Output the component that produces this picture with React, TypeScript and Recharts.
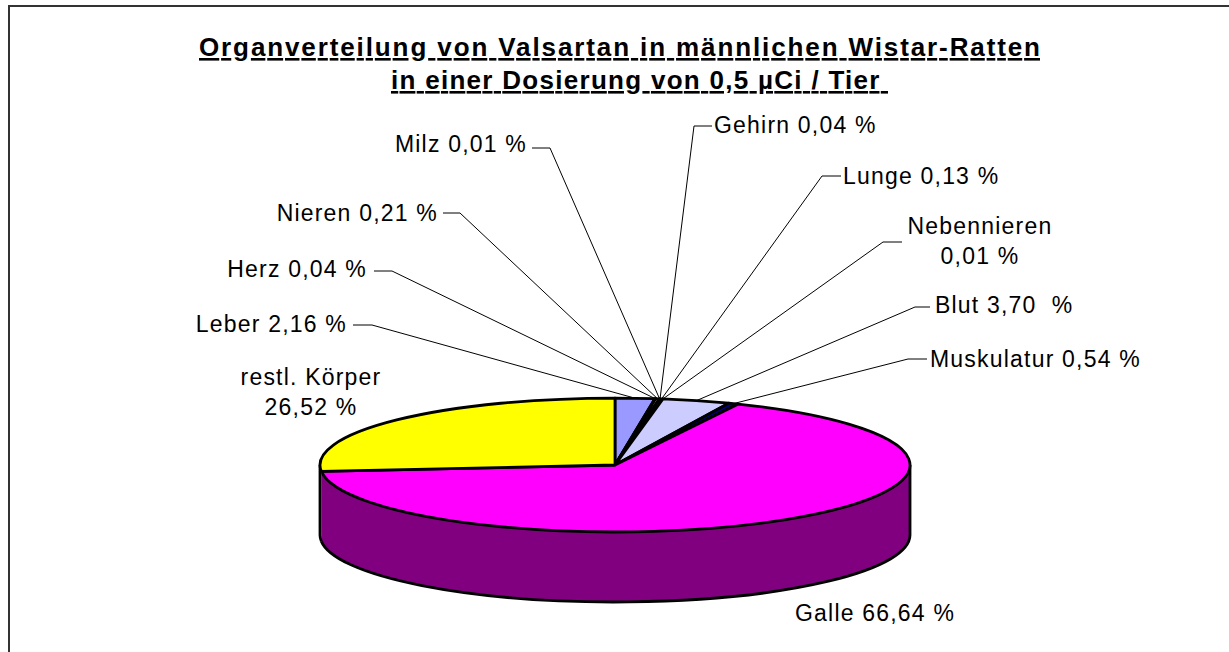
import React from 'react';
import { PieChart, Pie, Cell } from 'recharts';

// ---- data ----
const organs = ['Leber', 'Herz', 'Nieren', 'Milz', 'Gehirn', 'Lunge', 'Nebennieren', 'Blut', 'Muskulatur', 'Galle', 'restl. Körper'];
const shares = [2.16, 0.04, 0.21, 0.01, 0.04, 0.13, 0.01, 3.7, 0.54, 66.64, 26.52];
const labelTexts = [
  ['Leber 2,16 %'],
  ['Herz 0,04 %'],
  ['Nieren 0,21 %'],
  ['Milz 0,01 %'],
  ['Gehirn 0,04 %'],
  ['Lunge 0,13 %'],
  ['Nebennieren', '0,01 %'],
  ['Blut 3,70  %'],
  ['Muskulatur 0,54 %'],
  ['Galle 66,64 %'],
  ['restl. Körper', '26,52 %'],
];
const titleLines = ['Organverteilung von Valsartan in männlichen Wistar-Ratten', 'in einer Dosierung von 0,5 µCi / Tier '];

// ---- styles / layout ----
const topColors = ['#9999FF', '#993366', '#FFFFCC', '#CCFFFF', '#660066', '#FF8080', '#0066CC', '#CCCCFF', '#000080', '#FF00FF', '#FFFF00'];
const FONT = '"Liberation Sans", Arial, Helvetica, sans-serif';
const W = 1229;
const H = 652;
const K = 0.227; // vertical squash of the tilted pie
const DEPTH = 70;
const LABEL_SIZE = 23;
const LABEL_SPACING = 1.2;

type LabelLayout = { x: number; y: number; anchor: 'start' | 'middle' | 'end'; elbow?: [number, number]; tail?: number };
const labelLayout: LabelLayout[] = [
  { x: 347, y: 332, anchor: 'end', elbow: [372, 325], tail: 353 },
  { x: 367, y: 277, anchor: 'end', elbow: [392, 271], tail: 374 },
  { x: 438, y: 221, anchor: 'end', elbow: [460, 213], tail: 443 },
  { x: 527, y: 152, anchor: 'end', elbow: [550, 148], tail: 532 },
  { x: 714, y: 133, anchor: 'start', elbow: [694, 126], tail: 712 },
  { x: 843, y: 184, anchor: 'start', elbow: [822, 176], tail: 841 },
  { x: 980, y: 234, anchor: 'middle', elbow: [883, 242], tail: 902 },
  { x: 935, y: 313, anchor: 'start', elbow: [915, 307], tail: 930 },
  { x: 930, y: 367, anchor: 'start', elbow: [908, 359], tail: 927 },
  { x: 795, y: 621, anchor: 'start' },
  { x: 311, y: 385, anchor: 'middle' },
];

const data = organs.map((name, i) => ({ name, value: shares[i], idx: i }));

function darken(hex: string) {
  const n = parseInt(hex.slice(1), 16);
  const r = (n >> 16) & 255, g = (n >> 8) & 255, b = n & 255;
  const h = (v: number) => Math.round(v / 2).toString(16).padStart(2, '0');
  return '#' + h(r) + h(g) + h(b);
}

function pt(cx: number, cy: number, r: number, deg: number, dy = 0): [number, number] {
  const a = (deg * Math.PI) / 180;
  return [cx + r * Math.cos(a), cy - r * K * Math.sin(a) + dy];
}

function Slice3D(props: any) {
  const { cx, cy, outerRadius: r, startAngle, endAngle } = props;
  const idx = props.payload?.idx ?? props.idx ?? props.index ?? 0;
  const fill = topColors[idx];
  const hi = Math.max(startAngle, endAngle);
  const lo = Math.min(startAngle, endAngle);
  const sides: [number, number][] = [];
  for (let k = -2; k <= 1; k++) {
    const a = Math.max(lo, -180 + 360 * k);
    const b = Math.min(hi, 360 * k);
    if (b > a) sides.push([a, b]);
  }
  const ry = r * K;
  const s = pt(cx, cy, r, startAngle);
  const e = pt(cx, cy, r, endAngle);
  const large = hi - lo > 180 ? 1 : 0;
  const sweep = startAngle > endAngle ? 1 : 0;
  const topPath = `M${cx},${cy} L${s[0]},${s[1]} A${r},${ry} 0 ${large} ${sweep} ${e[0]},${e[1]} Z`;
  const mod = (v: number) => ((v % 360) + 360) % 360;
  const near = (v: number, t: number) => {
    const d = mod(v - t);
    return d < 1e-6 || 360 - d < 1e-6;
  };
  return (
    <g>
      {sides.map(([a, b], i) => {
        const pa = pt(cx, cy, r, a), pb = pt(cx, cy, r, b);
        const qa = pt(cx, cy, r, a, DEPTH), qb = pt(cx, cy, r, b, DEPTH);
        const d = `M${pb[0]},${pb[1]} A${r},${ry} 0 0 1 ${pa[0]},${pa[1]} L${qa[0]},${qa[1]} A${r},${ry} 0 0 0 ${qb[0]},${qb[1]} Z`;
        return (
          <g key={i}>
            <path d={d} fill={darken(fill)} stroke="none" />
            <path d={`M${qa[0]},${qa[1]} A${r},${ry} 0 0 0 ${qb[0]},${qb[1]}`} fill="none" stroke="#000" strokeWidth={2.8} />
            {near(a, 180) && <line x1={pa[0]} y1={pa[1]} x2={qa[0]} y2={qa[1]} stroke="#000" strokeWidth={2.8} />}
            {near(b, 0) && <line x1={pb[0]} y1={pb[1]} x2={qb[0]} y2={qb[1]} stroke="#000" strokeWidth={2.8} />}
          </g>
        );
      })}
      <path d={topPath} fill={fill} stroke="#000" strokeWidth={2.8} strokeLinejoin="round" />
    </g>
  );
}

function SliceLabel(props: any) {
  const { cx, cy, outerRadius: r, midAngle } = props;
  const idx = props.payload?.idx ?? props.idx ?? props.index ?? 0;
  const lay = labelLayout[idx];
  const lines = labelTexts[idx];
  const rim = pt(cx, cy, r, midAngle);
  return (
    <g>
      {lay.elbow && (
        <polyline
          points={`${rim[0]},${rim[1]} ${lay.elbow[0]},${lay.elbow[1]} ${lay.tail},${lay.elbow[1]}`}
          fill="none"
          stroke="#000"
          strokeWidth={1}
        />
      )}
      <text
        x={lay.x}
        y={lay.y}
        textAnchor={lay.anchor}
        fontFamily={FONT}
        fontSize={LABEL_SIZE}
        letterSpacing={LABEL_SPACING}
        fill="#000"
        style={{ whiteSpace: 'pre' }}
      >
        {lines.map((t, i) => (
          <tspan key={i} x={lay.x} dy={i === 0 ? 0 : 30}>
            {t}
          </tspan>
        ))}
      </text>
    </g>
  );
}

export default function App() {
  return (
    <div style={{ position: 'absolute', left: 0, top: 0, width: W, height: H, overflow: 'hidden', background: '#fff' }}>
      <div
        style={{
          position: 'absolute',
          left: 8,
          top: 5,
          width: W + 50,
          height: H + 50,
          borderLeft: '2px solid #333',
          borderTop: '2px solid #333',
          boxSizing: 'border-box',
        }}
      />
      <div style={{ position: 'absolute', left: 0, top: 0 }}>
        <PieChart width={W} height={H} margin={{ top: 0, right: 0, bottom: 0, left: 0 }}>
          <Pie
            data={data}
            dataKey="value"
            nameKey="name"
            cx={615}
            cy={465}
            innerRadius={0}
            outerRadius={295}
            startAngle={90}
            endAngle={-270}
            isAnimationActive={false}
            stroke="none"
            shape={Slice3D}
            label={SliceLabel}
            labelLine={false}
          >
            {data.map((d, i) => (
              <Cell key={d.name} fill={topColors[i]} />
            ))}
          </Pie>
        </PieChart>
      </div>
      <svg width={W} height={H} style={{ position: 'absolute', left: 0, top: 0, pointerEvents: 'none' }}>
        <text
          x={199}
          y={56}
          fontFamily={FONT}
          fontWeight="bold"
          fontSize={26}
          textLength={841}
          lengthAdjust="spacing"
          textDecoration="underline"
          fill="#000"
        >
          {titleLines[0]}
        </text>
        <text
          x={391}
          y={89}
          fontFamily={FONT}
          fontWeight="bold"
          fontSize={26}
          textLength={497}
          lengthAdjust="spacing"
          textDecoration="underline"
          fill="#000"
          style={{ whiteSpace: 'pre' }}
        >
          {titleLines[1]}
        </text>
      </svg>
    </div>
  );
}
